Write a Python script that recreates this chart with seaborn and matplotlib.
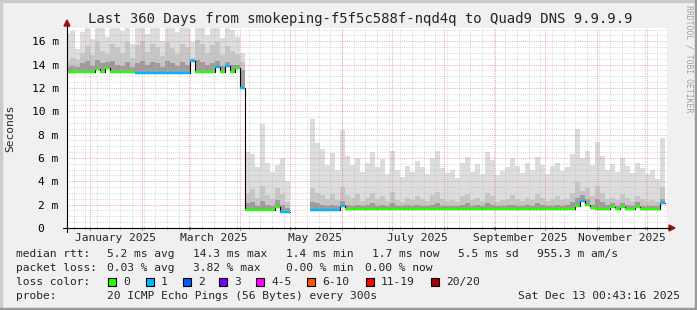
import numpy as np
import pandas as pd
import matplotlib
matplotlib.use("Agg")
import matplotlib.pyplot as plt
from matplotlib.patches import Rectangle, Polygon
import seaborn as sns

# ---------------- data ----------------
TITLE = "Last 360 Days from smokeping-f5f5c588f-nqd4q to Quad9 DNS 9.9.9.9"
t_start = "2024-12-18 00:43:16"
t_end = "2025-12-13 00:43:16"

# period 1 (3-day bins)
p1_start = "2024-12-17 00:43:16"
med1 = [13.4, 13.4, 13.4, 13.4, 13.4, 13.4, 13.65, 13.4, 13.7, 13.4, 13.4, 13.4,
        13.4, 13.4, 13.3, 13.3, 13.3, 13.3, 13.3, 13.3, 13.3, 13.3, 13.3, 13.3,
        13.3, 14.3, 13.4, 13.4, 13.4, 13.4, 13.8, 13.4, 13.9, 13.4, 13.7, 12.0]
loss1 = [0] * 14 + [1] * 12 + [0, 0, 0, 0, 1, 0, 1, 0, 0, 1]
smax1 = [16.7, 16.9, 15.3, 16.8, 17.5, 16.2, 17.5, 17.5, 16.4, 17.5, 17.5, 16.9,
         17.5, 15.8, 17.5, 17.5, 16.6, 17.5, 17.5, 16.0, 17.5, 17.5, 16.8, 17.5,
         17.5, 15.9, 17.5, 17.5, 16.5, 17.5, 17.5, 16.3, 17.5, 17.0, 16.4, 15.0]
smid1 = [14.3, 14.6, 14.4, 15.0, 15.6, 14.8, 15.9, 15.2, 14.9, 15.8, 15.5, 15.0,
         15.9, 14.6, 15.7, 16.0, 15.1, 15.8, 15.5, 14.7, 15.9, 15.4, 14.9, 15.8,
         15.5, 14.6, 16.1, 15.8, 15.0, 15.7, 15.9, 14.8, 15.6, 15.2, 14.9, 14.2]
slow1 = [13.8, 13.9, 13.8, 14.1, 14.3, 13.9, 14.4, 14.1, 14.2, 14.3, 14.0, 13.9,
         14.2, 13.8, 14.1, 14.3, 14.0, 14.2, 14.1, 13.8, 14.3, 14.1, 13.9, 14.2,
         14.0, 14.5, 14.4, 14.2, 14.0, 14.1, 14.3, 13.9, 14.2, 14.0, 14.0, 13.5]

# period 2
p2_start = "2025-04-04 00:43:16"
med2 = [1.5, 1.5, 1.5, 1.5, 1.5, 1.5, 1.8, 1.4, 1.35]
loss2 = [0, 0, 0, 0, 0, 0, 0, 1, 1]
smax2 = [6.5, 6.3, 5.2, 8.9, 5.6, 4.8, 5.4, 6.0, 4.0]
smid2 = [3.0, 3.3, 2.6, 3.6, 2.8, 2.5, 3.4, 2.9, 2.2]
slow2 = [2.1, 2.2, 1.9, 2.3, 2.0, 1.9, 2.4, 2.0, 1.7]

# period 3
p3_start = "2025-05-13 00:43:16"
med3 = [1.5, 1.5, 1.5, 1.5, 1.5, 1.5, 1.9, 1.6, 1.6, 1.6, 1.6, 1.6,
        1.6, 1.6, 1.6, 1.6, 1.6, 1.6, 1.6, 1.6, 1.6, 1.6, 1.6, 1.6,
        1.6, 1.6, 1.6, 1.6, 1.6, 1.6, 1.6, 1.6, 1.6, 1.6, 1.6, 1.6,
        1.6, 1.6, 1.6, 1.6, 1.6, 1.6, 1.6, 1.6, 1.6, 1.6, 1.6, 1.6,
        1.6, 1.6, 1.6, 1.6, 1.6, 1.9, 2.3, 2.0, 1.7, 1.6, 1.6, 1.6,
        1.8, 1.6, 1.8, 1.6, 1.6, 1.8, 1.6, 1.6, 1.6, 1.6, 2.1]
loss3 = [1, 1, 1, 1, 1, 1, 1, 0, 0, 0, 0, 0,
         0, 0, 0, 0, 0, 0, 0, 0, 0, 0, 0, 0,
         0, 0, 0, 0, 0, 0, 0, 0, 0, 0, 0, 0,
         0, 0, 0, 0, 0, 0, 0, 0, 0, 0, 0, 0,
         0, 0, 0, 0, 0, 0, 1, 0, 0, 0, 0, 0,
         0, 0, 0, 0, 0, 0, 0, 0, 0, 0, 1]
smax3 = [9.3, 7.3, 6.8, 5.4, 6.4, 5.0, 8.4, 6.2, 5.4, 6.0, 4.8, 5.6,
         6.5, 5.2, 5.9, 4.6, 6.6, 5.0, 4.4, 5.3, 4.8, 5.7, 5.2, 4.6,
         6.0, 6.6, 5.1, 4.7, 5.0, 4.3, 5.6, 6.1, 4.8, 5.5, 4.6, 6.5,
         5.8, 4.5, 4.9, 5.2, 6.0, 5.3, 4.7, 5.6, 5.0, 6.1, 5.4, 4.6,
         5.3, 5.6, 4.9, 5.2, 6.3, 8.5, 6.0, 6.6, 5.4, 7.4, 6.2, 5.0,
         5.5, 4.8, 6.0, 5.3, 4.7, 5.6, 5.1, 4.6, 5.0, 4.2, 7.7]
smid3 = [3.4, 3.0, 2.8, 2.5, 2.9, 2.4, 3.5, 2.8, 2.6, 2.9, 2.3, 2.6,
         3.0, 2.5, 2.7, 2.3, 3.1, 2.4, 2.2, 2.6, 2.4, 2.7, 2.5, 2.3,
         2.8, 3.1, 2.5, 2.3, 2.4, 2.2, 2.7, 2.9, 2.4, 2.6, 2.3, 3.0,
         2.7, 2.2, 2.4, 2.5, 2.8, 2.5, 2.3, 2.6, 2.4, 2.9, 2.6, 2.3,
         2.5, 2.7, 2.4, 2.5, 3.0, 3.9, 3.2, 3.4, 2.7, 3.6, 3.0, 2.5,
         2.6, 2.4, 2.9, 2.6, 2.3, 2.7, 2.5, 2.3, 2.4, 2.2, 3.5]
slow3 = [2.2, 2.1, 2.0, 1.9, 2.0, 1.9, 2.3, 2.0, 1.9, 2.0, 1.9, 2.0,
         2.1, 1.9, 2.0, 1.9, 2.1, 1.9, 1.9, 2.0, 1.9, 2.0, 1.9, 1.9,
         2.0, 2.1, 1.9, 1.9, 1.9, 1.9, 2.0, 2.1, 1.9, 2.0, 1.9, 2.1,
         2.0, 1.9, 1.9, 2.0, 2.0, 1.9, 1.9, 2.0, 1.9, 2.1, 2.0, 1.9,
         1.9, 2.0, 1.9, 2.0, 2.2, 2.6, 2.8, 2.5, 2.0, 2.5, 2.2, 2.0,
         2.1, 1.9, 2.1, 2.0, 1.9, 2.2, 1.9, 1.9, 1.9, 1.9, 2.5]

loss_labels = ["0", "1", "2", "3", "4-5", "6-10", "11-19", "20/20"]
loss_colors = ["#26ff00", "#00b8ff", "#0059ff", "#7e00ff", "#ff00ff", "#ff5500", "#ff0000", "#a00000"]

y_ticks = [0, 2, 4, 6, 8, 10, 12, 14, 16]
y_ticklabels = ["0  ", "2 m", "4 m", "6 m", "8 m", "10 m", "12 m", "14 m", "16 m"]
x_labels = ["January 2025", "March 2025", "May 2025", "July 2025", "September 2025", "November 2025"]
x_label_pos = ["2025-01-16", "2025-03-16", "2025-05-16", "2025-07-16", "2025-09-16", "2025-11-16"]

stats_rows = [
    ("median rtt:", [(107, "5.2 ms avg"), (193, "14.3 ms max"), (286, "1.4 ms min"),
                     (372, "1.7 ms now"), (458, "5.5 ms sd"), (537, "955.3 m am/s")]),
    ("packet loss:", [(107, "0.03 % avg"), (193, "3.82 % max"), (286, "0.00 % min"),
                      (365, "0.00 % now")]),
]
legend_box_x = [108, 146, 183, 219, 256, 307, 366, 431]
probe_text = "20 ICMP Echo Pings (56 Bytes) every 300s"
stamp_text = "Sat Dec 13 00:43:16 2025"

# ---------------- drawing ----------------
sns.set_style("white")
plt.rcParams["font.family"] = ["DejaVu Sans Mono", "DejaVu Sans"]

W, H = 697, 310
fig = plt.figure(figsize=(W / 100, H / 100), dpi=100, facecolor="#f0f0f0")


def fx(px):
    return px / W


def fy(py):
    return 1 - py / H


# 3D frame
fig.patches.append(Rectangle((0, 0), fx(2), 1, transform=fig.transFigure, color="#cbcbcb", zorder=0))
fig.patches.append(Rectangle((0, fy(2)), 1, 2 / H, transform=fig.transFigure, color="#cbcbcb", zorder=0))
fig.patches.append(Rectangle((fx(695), 0), fx(2), 1, transform=fig.transFigure, color="#999999", zorder=0))
fig.patches.append(Rectangle((0, 0), 1, 2 / H, transform=fig.transFigure, color="#999999", zorder=0))

ax = fig.add_axes([fx(67), fy(228), 600 / W, 200 / H])
ax.set_facecolor("white")
x0, x1 = pd.Timestamp(t_start), pd.Timestamp(t_end)
ax.set_xlim(x0, x1)
ax.set_ylim(0, 200 / 11.67)

periods = [
    (p1_start, med1, loss1, smax1, smid1, slow1),
    (p2_start, med2, loss2, smax2, smid2, slow2),
    (p3_start, med3, loss3, smax3, smid3, slow3),
]

for ps, med, loss, smax, smid, slow in periods:
    n = len(med)
    edges = pd.date_range(ps, periods=n + 1, freq="3D")
    m = np.append(med, med[-1])
    for arr, col in ((smax, "#dddddd"), (smid, "#c6c6c6"), (slow, "#9c9c9c")):
        a = np.append(arr, arr[-1])
        ax.fill_between(edges, m, a, step="post", color=col, lw=0, zorder=1)

# grid (over smoke, dotted)
gkw = dict(lw=0.72, ls=(0, (1, 1.2)), zorder=2)
for d in pd.date_range("2024-12-22", "2025-12-12", freq="7D"):
    ax.axvline(d, color="#b8b8b8", alpha=0.55, **gkw)
for yv in np.arange(0.5, 17.1, 0.5):
    if yv % 2:
        ax.axhline(yv, color="#b8b8b8", alpha=0.55, **gkw)
for d in pd.date_range("2025-01-01", "2025-12-01", freq="MS"):
    ax.axvline(d, color="#ee7070", alpha=0.6, **gkw)
for yv in y_ticks[1:]:
    ax.axhline(yv, color="#ee7070", alpha=0.6, **gkw)

# median line
for ps, med, loss, smax, smid, slow in periods:
    n = len(med)
    edges = pd.date_range(ps, periods=n + 1, freq="3D")
    m = np.append(med, med[-1])
    sns.lineplot(x=edges, y=m, drawstyle="steps-post", color="black", lw=0.8,
                 estimator=None, ax=ax, zorder=3)
    ax.hlines(med, edges[:-1], edges[1:], colors=[loss_colors[v] for v in loss],
              lw=1.7, zorder=4)
# connect periods 1 -> 2
ax.vlines(pd.Timestamp(p2_start), med2[0], med1[-1], color="black", lw=0.8, zorder=3)

for s in ax.spines.values():
    s.set_visible(False)
ax.set_xlabel("")
ax.set_ylabel("")
ax.set_yticks(y_ticks)
ax.set_yticklabels(y_ticklabels, fontsize=8.1)
ax.set_xticks([])
ax.tick_params(axis="y", length=3, width=0.8, pad=3, direction="out", colors="black")

# axes lines and arrows (figure coords)
fig.add_artist(plt.Line2D([fx(67), fx(67)], [fy(232), fy(25)], color="black", lw=0.8))
fig.add_artist(plt.Line2D([fx(63), fx(670)], [fy(228), fy(228)], color="black", lw=0.8))
fig.add_artist(Polygon([[fx(64), fy(26)], [fx(70), fy(26)], [fx(67), fy(20)]],
                       closed=True, color="#a01010", transform=fig.transFigure))
fig.add_artist(Polygon([[fx(669), fy(225)], [fx(669), fy(231)], [fx(675), fy(228)]],
                       closed=True, color="#a01010", transform=fig.transFigure))

# x tick marks
for d in pd.date_range("2024-12-22", "2025-12-12", freq="7D"):
    ax.plot([d, d], [-0.12, 0.08], color="#999999", lw=0.72, clip_on=False, zorder=5)
for d in pd.date_range("2025-01-01", "2025-12-01", freq="MS"):
    ax.plot([d, d], [-0.17, 0.12], color="#e06060", lw=0.72, clip_on=False, zorder=5)

for lab, pos in zip(x_labels, x_label_pos):
    ax.text(pd.Timestamp(pos), -0.84, lab, ha="center", va="center", fontsize=8.1)

# texts
fig.text(fx(88), fy(19), TITLE, fontsize=10.1, ha="left", va="center")
fig.text(fx(10), fy(128), "Seconds", rotation=90, fontsize=8.1, ha="center", va="center")
fig.text(fx(689), fy(5), "RRDTOOL / TOBI OETIKER", rotation=270, fontsize=5.9,
         color="#a0a0a0", ha="center", va="top")

rows_y = [254, 268, 282, 296]
for (head, items), yy in zip(stats_rows, rows_y[:2]):
    fig.text(fx(16), fy(yy), head, fontsize=8.1, ha="left", va="center")
    for xx, s in items:
        fig.text(fx(xx), fy(yy), s, fontsize=8.1, ha="left", va="center")

fig.text(fx(16), fy(282), "loss color:", fontsize=8.1, ha="left", va="center")
for bx, lab, col in zip(legend_box_x, loss_labels, loss_colors):
    fig.patches.append(Rectangle((fx(bx), fy(286)), 8 / W, 8 / H, transform=fig.transFigure,
                                 facecolor=col, edgecolor="black", lw=0.8))
    fig.text(fx(bx + 15), fy(282), lab, fontsize=8.1, ha="left", va="center")

fig.text(fx(16), fy(296), "probe:", fontsize=8.1, ha="left", va="center")
fig.text(fx(107), fy(296), probe_text, fontsize=8.1, ha="left", va="center")
fig.text(fx(680), fy(296), stamp_text, fontsize=8.1, ha="right", va="center")

fig.savefig("out.png", dpi=100, facecolor=fig.get_facecolor())
